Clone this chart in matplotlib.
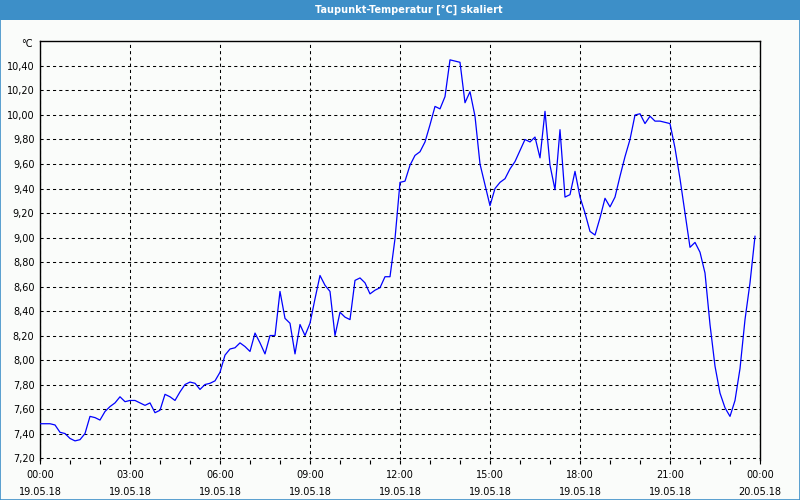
import matplotlib
matplotlib.use("Agg")
import matplotlib.pyplot as plt
import matplotlib.dates as mdates
from matplotlib.patches import Rectangle
from matplotlib.ticker import FuncFormatter
import numpy as np
import pandas as pd

# dew point, one value every 10 minutes, 19.05.18 00:00 .. 23:50
dew_point = [
    7.48, 7.48, 7.48, 7.47, 7.41, 7.40, 7.36, 7.34, 7.35, 7.40,
    7.54, 7.53, 7.51, 7.58, 7.62, 7.65, 7.70, 7.66, 7.67, 7.67,
    7.65, 7.63, 7.65, 7.57, 7.59, 7.72, 7.70, 7.67, 7.74, 7.80,
    7.82, 7.81, 7.76, 7.80, 7.81, 7.83, 7.90, 8.04, 8.09, 8.10,
    8.14, 8.11, 8.07, 8.22, 8.14, 8.05, 8.20, 8.20, 8.56, 8.34,
    8.30, 8.05, 8.29, 8.20, 8.30, 8.50, 8.69, 8.61, 8.56, 8.20,
    8.39, 8.35, 8.33, 8.65, 8.67, 8.63, 8.54, 8.57, 8.59, 8.68,
    8.68, 8.99, 9.45, 9.46, 9.59, 9.67, 9.70, 9.78, 9.92, 10.07,
    10.05, 10.15, 10.45, 10.44, 10.43, 10.10, 10.19, 9.99, 9.60, 9.43,
    9.26, 9.40, 9.45, 9.48, 9.56, 9.62, 9.71, 9.80, 9.78, 9.82,
    9.65, 10.03, 9.59, 9.39, 9.88, 9.33, 9.35, 9.54, 9.33, 9.20,
    9.05, 9.02, 9.16, 9.32, 9.25, 9.33, 9.50, 9.66, 9.80, 10.00,
    10.01, 9.93, 9.99, 9.95, 9.95, 9.94, 9.93, 9.73, 9.48, 9.20,
    8.92, 8.96, 8.88, 8.71, 8.29, 7.95, 7.73, 7.61, 7.54, 7.67,
    7.93, 8.33, 8.63, 9.01,
]
times = pd.date_range("2018-05-19 00:00", periods=len(dew_point), freq="10min")
y_ticks = [7.2, 7.4, 7.6, 7.8, 8.0, 8.2, 8.4, 8.6, 8.8, 9.0, 9.2, 9.4, 9.6, 9.8, 10.0, 10.2, 10.4]

bg = "#fafcfa"
frame_blue = "#3d8fc8"
font = "DejaVu Sans"

fig = plt.figure(figsize=(8, 5), dpi=100, facecolor=bg)

# title bar and thin frame
fig.patches.append(Rectangle((0, 0.96), 1, 0.04, transform=fig.transFigure,
                             facecolor=frame_blue, edgecolor="none", zorder=0))
fig.patches.append(Rectangle((0.0006, 0.001), 0.9988, 0.99, transform=fig.transFigure,
                             facecolor="none", edgecolor=frame_blue, lw=1.2, zorder=0))
fig.text(0.511, 0.98, "Taupunkt-Temperatur [°C] skaliert", color="white",
         ha="center", va="center", fontsize=7, fontweight="bold", family=font)

ax = fig.add_axes([0.05, 0.08, 0.90, 0.839])
ax.set_facecolor(bg)
ax.plot(times, dew_point, color="#0000ff", lw=0.9, zorder=3)

ax.set_xlim(pd.Timestamp("2018-05-19 00:00"), pd.Timestamp("2018-05-20 00:00"))
ax.set_ylim(7.184, 10.608)

ax.xaxis.set_major_locator(mdates.HourLocator(interval=3))
ax.xaxis.set_minor_locator(mdates.HourLocator())
ax.xaxis.set_major_formatter(mdates.DateFormatter("%H:%M\n%d.%m.%y"))
ax.set_yticks(y_ticks)
ax.yaxis.set_major_formatter(FuncFormatter(lambda v, p: f"{v:.2f}".replace(".", ",")))

ax.grid(True, which="major", color="black", lw=0.75, linestyle=(0, (3, 3)))
ax.tick_params(axis="x", which="both", direction="out", length=3, width=0.8,
               color="black", labelsize=7, pad=4)
ax.tick_params(axis="y", length=0, labelsize=7, pad=4)
for lab in ax.get_xticklabels() + ax.get_yticklabels():
    lab.set_family(font)
    lab.set_linespacing(1.85)

ax.spines["bottom"].set_visible(False)
for s in ["left", "right", "top"]:
    ax.spines[s].set_linewidth(1.0)

fig.text(0.041, 0.912, "°C", ha="right", va="center", fontsize=7, family=font)

fig.savefig("out.png", dpi=100, facecolor=bg)
